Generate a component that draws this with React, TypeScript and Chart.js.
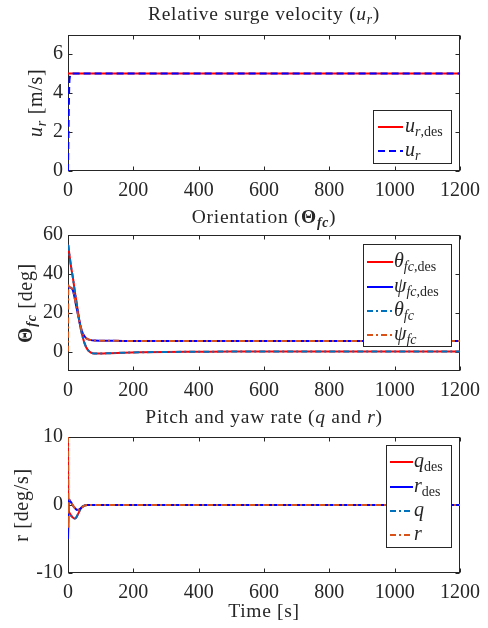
import React, { useEffect, useRef } from 'react';
import { Chart, registerables } from 'chart.js';

Chart.register(...registerables);

const W = 488;
const H = 628;
const SERIF = '"Liberation Serif", "DejaVu Serif", serif';
const INK = '#262626';
const RED = '#FF0000';
const BLUE = '#0000FF';
const MBLUE = '#0072BD';
const ORANGE = '#D95319';

// shared time axis
const timeTicks = [0, 200, 400, 600, 800, 1000, 1200];

// relative surge velocity [m/s]
const surgeTime = [0, 1, 2, 3, 4, 6, 9, 14, 1200];
const surgeDes = [5, 5, 5, 5, 5, 5, 5, 5, 5];
const surgeAct = [0, 1.3, 2.6, 3.7, 4.5, 4.85, 4.97, 5, 5];
const surgeTicks = [0, 2, 4, 6];

// orientation [deg]
const orientTime = [0, 1, 3, 5, 10, 15, 20, 25, 30, 35, 40, 45, 50, 55, 60, 70, 80, 100, 130, 170, 220, 300, 400, 500, 1200];
const thetaDes = [55, 54.5, 51.5, 49, 43, 38, 32, 26.5, 21, 15.5, 11, 7.5, 4.6, 2.5, 1, -0.5, -1, -1, -0.8, -0.6, -0.4, -0.2, -0.1, 0, 0];
const thetaAct = [55, 54.5, 51.5, 49, 43, 38, 32, 26.5, 21, 15.5, 11, 7.5, 4.6, 2.5, 1, -0.5, -1, -1, -0.8, -0.6, -0.4, -0.2, -0.1, 0, 0];
const psiDes = [33, 33, 33, 33, 32.8, 31.5, 28, 23.5, 19.5, 15.5, 12, 9.5, 8, 7, 6.4, 5.9, 5.7, 5.6, 5.55, 5.5, 5.5, 5.5, 5.5, 5.5, 5.5];
const psiAct = [0, 35, 33.5, 33.2, 32.8, 31.5, 28, 23.5, 19.5, 15.5, 12, 9.5, 8, 7, 6.4, 5.9, 5.7, 5.6, 5.55, 5.5, 5.5, 5.5, 5.5, 5.5, 5.5];
const orientTicks = [0, 20, 40, 60];

// pitch and yaw rate [deg/s]
const rateTime = [0, 1, 2, 5, 10, 14, 20, 25, 30, 35, 40, 45, 52, 60, 80, 100, 1200];
const qDes = [10, -1, -1, -1.2, -1.6, -1.8, -2, -1.85, -1.4, -0.9, -0.45, -0.2, -0.05, 0, 0, 0, 0];
const rDes = [-5, -3, 0.8, 0.7, 0.35, 0, -0.4, -0.65, -0.75, -0.65, -0.45, -0.25, -0.05, 0, 0, 0, 0];
const qAct = [10, -1, -1, -1.2, -1.6, -1.8, -2, -1.85, -1.4, -0.9, -0.45, -0.2, -0.05, 0, 0, 0, 0];
const rAct = [10, -3.5, 0.8, 0.7, 0.35, 0, -0.4, -0.65, -0.75, -0.65, -0.45, -0.25, -0.05, 0, 0, 0, 0];
const rateTicks = [-10, 0, 10];

type Seg = { t: string; f?: 'r' | 'i' | 'b' | 'bi'; sub?: boolean };

function fontFor(seg: Seg, size: number) {
  const s = seg.sub ? size * 0.7 : size;
  const f = seg.f || 'r';
  const style = f === 'i' || f === 'bi' ? 'italic ' : '';
  const weight = f === 'b' || f === 'bi' ? 'bold ' : '';
  return `${style}${weight}${s}px ${SERIF}`;
}

function richWidth(ctx: CanvasRenderingContext2D, segs: Seg[], size: number) {
  let w = 0;
  for (const s of segs) {
    ctx.font = fontFor(s, size);
    w += ctx.measureText(s.t).width;
  }
  return w;
}

function drawRich(
  ctx: CanvasRenderingContext2D,
  segs: Seg[],
  x: number,
  y: number,
  size: number,
  align: 'left' | 'center',
  spacing = 0
) {
  ctx.save();
  (ctx as any).letterSpacing = `${spacing}px`;
  ctx.fillStyle = INK;
  ctx.textBaseline = 'middle';
  ctx.textAlign = 'left';
  let cx = align === 'center' ? x - richWidth(ctx, segs, size) / 2 : x;
  for (const s of segs) {
    ctx.font = fontFor(s, size);
    ctx.fillText(s.t, cx, s.sub ? y + size * 0.28 : y);
    cx += ctx.measureText(s.t).width;
  }
  ctx.restore();
}

type PanelCfg = {
  top: number;
  bottom: number;
  yMin: number;
  yMax: number;
  yTicks: number[];
  title: Seg[];
  titleY: number;
  yLabel: Seg[];
  yLabelX: number;
  xLabel?: Seg[];
  legendBox: [number, number, number, number];
  legendRows: number[];
  legendSample: [number, number];
  legendText: number;
  series: { x: number[]; y: number[]; color: string; dash: number[]; label: Seg[] }[];
};

const LEFT = 68;
const RIGHT = 460;
const X_AXIS_H = 30;
const Y_AXIS_W = 40;
const TICK_FONT = 20;
const TITLE_FONT = 19.5;
const LABEL_FONT = 20;
const LEGEND_FONT = 20;
const TEXT_SPACING = 0.7;

const panels: PanelCfg[] = [
  {
    top: 34.5,
    bottom: 171,
    yMin: 0,
    yMax: 7,
    yTicks: surgeTicks,
    title: [{ t: 'Relative surge velocity (' }, { t: 'u', f: 'i' }, { t: 'r', f: 'i', sub: true }, { t: ')' }],
    titleY: 15,
    yLabel: [{ t: 'u', f: 'i' }, { t: 'r', f: 'i', sub: true }, { t: ' [m/s]' }],
    yLabelX: 37,
    legendBox: [373, 110, 451, 163],
    legendRows: [127, 151],
    legendSample: [378, 403],
    legendText: 405,
    series: [
      { x: surgeTime, y: surgeDes, color: RED, dash: [], label: [{ t: 'u', f: 'i' }, { t: 'r', f: 'i', sub: true }, { t: ',des', sub: true }] },
      { x: surgeTime, y: surgeAct, color: BLUE, dash: [7, 4], label: [{ t: 'u', f: 'i' }, { t: 'r', f: 'i', sub: true }] },
    ],
  },
  {
    top: 235,
    bottom: 371,
    yMin: -10,
    yMax: 60,
    yTicks: orientTicks,
    title: [{ t: 'Orientation (' }, { t: 'Θ', f: 'b' }, { t: 'fc', f: 'bi', sub: true }, { t: ')' }],
    titleY: 218,
    yLabel: [{ t: 'Θ', f: 'b' }, { t: 'fc', f: 'bi', sub: true }, { t: ' [deg]' }],
    yLabelX: 27,
    legendBox: [363, 244, 451, 346],
    legendRows: [262, 287, 311, 335],
    legendSample: [367, 393],
    legendText: 394,
    series: [
      { x: orientTime, y: thetaDes, color: RED, dash: [], label: [{ t: 'θ', f: 'i' }, { t: 'fc', f: 'i', sub: true }, { t: ',des', sub: true }] },
      { x: orientTime, y: psiDes, color: BLUE, dash: [], label: [{ t: 'ψ', f: 'i' }, { t: 'fc', f: 'i', sub: true }, { t: ',des', sub: true }] },
      { x: orientTime, y: thetaAct, color: MBLUE, dash: [6, 3, 2, 3], label: [{ t: 'θ', f: 'i' }, { t: 'fc', f: 'i', sub: true }] },
      { x: orientTime, y: psiAct, color: ORANGE, dash: [6, 3, 2, 3], label: [{ t: 'ψ', f: 'i' }, { t: 'fc', f: 'i', sub: true }] },
    ],
  },
  {
    top: 437,
    bottom: 573,
    yMin: -10,
    yMax: 10,
    yTicks: rateTicks,
    title: [{ t: 'Pitch and yaw rate (' }, { t: 'q', f: 'i' }, { t: ' and ' }, { t: 'r', f: 'i' }, { t: ')' }],
    titleY: 418,
    yLabel: [{ t: 'r [deg/s]' }],
    yLabelX: 23,
    xLabel: [{ t: 'Time [s]' }],
    legendBox: [386, 445, 451, 547],
    legendRows: [462, 487, 511, 535],
    legendSample: [390, 413],
    legendText: 414,
    series: [
      { x: rateTime, y: qDes, color: RED, dash: [], label: [{ t: 'q', f: 'i' }, { t: 'des', sub: true }] },
      { x: rateTime, y: rDes, color: BLUE, dash: [], label: [{ t: 'r', f: 'i' }, { t: 'des', sub: true }] },
      { x: rateTime, y: qAct, color: MBLUE, dash: [6, 3, 2, 3], label: [{ t: 'q', f: 'i' }] },
      { x: rateTime, y: rAct, color: ORANGE, dash: [6, 3, 2, 3], label: [{ t: 'r', f: 'i' }] },
    ],
  },
];

function makeChart(canvas: HTMLCanvasElement, p: PanelCfg) {
  const framePlugin = {
    id: 'matlabFrame',
    // axes box and inward tick marks sit underneath the data lines
    beforeDatasetsDraw(chart: any) {
      const ctx: CanvasRenderingContext2D = chart.ctx;
      const a = chart.chartArea;
      const xs = chart.scales.x;
      const ys = chart.scales.y;
      ctx.save();
      ctx.strokeStyle = INK;
      ctx.lineWidth = 1;
      ctx.setLineDash([]);
      const l = Math.round(a.left) + 0.5;
      const r = Math.round(a.right) - 0.5;
      const t = Math.round(a.top) + 0.5;
      const b = Math.round(a.bottom) - 0.5;
      ctx.strokeRect(l, t, r - l, b - t);
      const tl = 4;
      ctx.beginPath();
      for (const v of timeTicks) {
        const px = Math.round(xs.getPixelForValue(v)) + 0.5;
        ctx.moveTo(px, b);
        ctx.lineTo(px, b - tl);
        ctx.moveTo(px, t);
        ctx.lineTo(px, t + tl);
      }
      for (const v of p.yTicks) {
        const py = Math.round(ys.getPixelForValue(v)) + 0.5;
        ctx.moveTo(l, py);
        ctx.lineTo(l + tl, py);
        ctx.moveTo(r, py);
        ctx.lineTo(r - tl, py);
      }
      ctx.stroke();
      ctx.restore();
    },
    afterDraw(chart: any) {
      const ctx: CanvasRenderingContext2D = chart.ctx;
      const a = chart.chartArea;
      ctx.save();
      // legend
      const [bx0, by0, bx1, by1] = p.legendBox;
      ctx.fillStyle = '#ffffff';
      ctx.fillRect(bx0, by0, bx1 - bx0, by1 - by0);
      ctx.strokeStyle = INK;
      ctx.lineWidth = 1;
      ctx.strokeRect(bx0 + 0.5, by0 + 0.5, bx1 - bx0, by1 - by0);
      p.series.forEach((s, i) => {
        const yy = p.legendRows[i];
        ctx.beginPath();
        ctx.strokeStyle = s.color;
        ctx.lineWidth = 2;
        ctx.setLineDash(s.dash);
        ctx.moveTo(p.legendSample[0], yy);
        ctx.lineTo(p.legendSample[1], yy);
        ctx.stroke();
        ctx.setLineDash([]);
        drawRich(ctx, s.label, p.legendText, yy, LEGEND_FONT, 'left');
      });

      // titles and axis labels
      const cx = (a.left + a.right) / 2;
      drawRich(ctx, p.title, cx, p.titleY, TITLE_FONT, 'center', TEXT_SPACING);
      if (p.xLabel) drawRich(ctx, p.xLabel, cx, 612, TITLE_FONT, 'center', TEXT_SPACING);
      ctx.save();
      ctx.translate(p.yLabelX, (a.top + a.bottom) / 2);
      ctx.rotate(-Math.PI / 2);
      drawRich(ctx, p.yLabel, 0, 0, LABEL_FONT, 'center', TEXT_SPACING);
      ctx.restore();
      ctx.restore();
    },
  };

  const n = p.series.length;
  return new Chart(canvas, {
    type: 'line',
    data: {
      datasets: p.series.map((s, i) => ({
        data: s.x.map((x, k) => ({ x, y: s.y[k] })),
        borderColor: s.color,
        borderWidth: 2,
        borderDash: s.dash,
        pointRadius: 0,
        fill: false,
        tension: 0,
        cubicInterpolationMode: 'monotone' as const,
        order: n - i,
      })),
    },
    options: {
      animation: false,
      responsive: false,
      events: [],
      layout: {
        padding: {
          left: LEFT - Y_AXIS_W,
          right: W - RIGHT,
          top: p.top,
          bottom: H - p.bottom - X_AXIS_H,
        },
      },
      plugins: {
        legend: { display: false },
        tooltip: { enabled: false },
        title: { display: false },
      },
      scales: {
        x: {
          type: 'linear',
          min: 0,
          max: 1200,
          grid: { display: false, drawTicks: false },
          border: { display: false },
          afterBuildTicks: (s: any) => {
            s.ticks = timeTicks.map((v) => ({ value: v }));
          },
          afterFit: (s: any) => {
            s.height = X_AXIS_H;
          },
          ticks: {
            autoSkip: false,
            maxRotation: 0,
            padding: 8,
            color: INK,
            font: { family: SERIF, size: TICK_FONT },
            callback: (v: any) => String(v),
          },
        },
        y: {
          type: 'linear',
          min: p.yMin,
          max: p.yMax,
          grid: { display: false, drawTicks: false },
          border: { display: false },
          afterBuildTicks: (s: any) => {
            s.ticks = p.yTicks.map((v) => ({ value: v }));
          },
          afterFit: (s: any) => {
            s.width = Y_AXIS_W;
          },
          ticks: {
            autoSkip: false,
            padding: 5,
            color: INK,
            font: { family: SERIF, size: TICK_FONT },
            callback: (v: any) => String(v),
          },
        },
      },
    },
    plugins: [framePlugin],
  } as any);
}

export default function App() {
  const refs = [useRef<HTMLCanvasElement>(null), useRef<HTMLCanvasElement>(null), useRef<HTMLCanvasElement>(null)];

  useEffect(() => {
    const charts = panels.map((p, i) => makeChart(refs[i].current as HTMLCanvasElement, p));
    return () => charts.forEach((c) => c.destroy());
  }, []);

  return (
    <div style={{ position: 'absolute', left: 0, top: 0, width: W, height: H, background: '#ffffff' }}>
      {refs.map((r, i) => (
        <canvas
          key={i}
          ref={r}
          width={W}
          height={H}
          style={{ position: 'absolute', left: 0, top: 0, width: W, height: H }}
        />
      ))}
    </div>
  );
}
